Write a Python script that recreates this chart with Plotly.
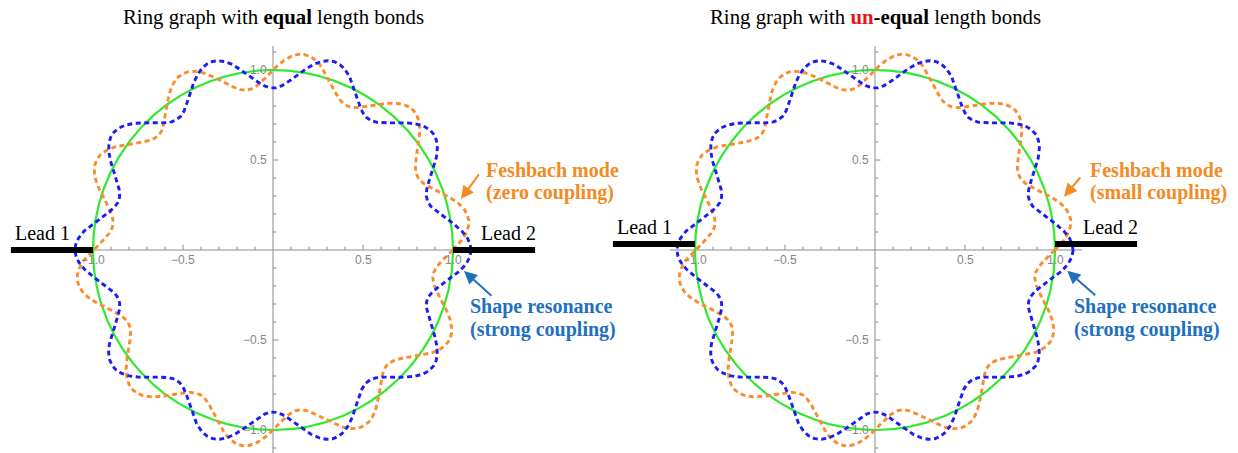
import numpy as np
import plotly.graph_objects as go

# ---- data -------------------------------------------------------------
PANEL_TITLES = [
    "Ring graph with <b>equal</b> length bonds",
    "Ring graph with <b><span style='color:#e8161c'>un</span>-equal</b> length bonds",
]
FESHBACH_LABELS = ["(zero coupling)", "(small coupling)"]
SHAPE_LABELS = ["Shape resonance", "(strong coupling)"]
LEAD_NAMES = ["Lead 1", "Lead 2"]

# standing waves drawn on the unit ring: r(theta) = 1 + amp * cos(n*theta + phase)
WAVE_NUMBER = [10, 10]                 # per panel
SHAPE_AMPLITUDE = [0.10, 0.10]         # blue (shape resonance)
SHAPE_PHASE = [0.0, 0.0]
FESHBACH_AMPLITUDE = [0.10, 0.10]      # orange (Feshbach mode)
FESHBACH_PHASE = [-np.pi / 2, -np.pi / 2]

LEAD_HEIGHT = [0.0, 0.033]             # y at which the leads attach
LEAD_INNER = 1.0
LEAD_OUTER = 1.456

MAJOR_TICKS = [-1.0, -0.5, 0.5, 1.0]
MAJOR_LABELS = ["\u22121.0", "\u22120.5", "0.5", "1.0"]
MINOR_TICKS = [-1.1, -0.9, -0.8, -0.7, -0.6, -0.4, -0.3, -0.2, -0.1,
               0.1, 0.2, 0.3, 0.4, 0.6, 0.7, 0.8, 0.9, 1.1]

# ---- styling ------------------------------------------------------------
GREEN = "#30e830"
ORANGE = "#fb8c2c"
BLUE = "#1c1cf4"
ORANGE_TXT = "#f48a22"
BLUE_TXT = "#1f70c1"
AXIS = "#8c8c8c"
TICK_TXT = "#858585"
SERIF = "Liberation Serif, Times New Roman, serif"
SANS = "Liberation Sans, Arial, sans-serif"

W, H = 1238, 453
SCALE = 180.0                      # px per data unit
ORIGIN_Y = 250.0                   # px from top
ORIGIN_X = [273.0, 875.0]          # px from left
SPLIT = 600.0

fig = go.Figure()
annotations = []

theta = np.linspace(0, 2 * np.pi, 2400)


def seg_xy(segments):
    xs, ys = [], []
    for (x0, y0, x1, y1) in segments:
        xs += [x0, x1, None]
        ys += [y0, y1, None]
    return xs, ys


for p in range(2):
    xa = "x" if p == 0 else "x2"
    ya = "y" if p == 0 else "y2"

    # axes through the origin
    segs = [(-1.14, 0, 1.148, 0), (0, -1.14, 0, 1.133)]
    for t in MAJOR_TICKS:
        segs.append((t, 0, t, 0.03))
        segs.append((0, t, 0.03, t))
    for t in MINOR_TICKS:
        segs.append((t, 0, t, 0.019))
        segs.append((0, t, 0.019, t))
    sx, sy = seg_xy(segs)
    fig.add_trace(go.Scatter(x=sx, y=sy, mode="lines", xaxis=xa, yaxis=ya,
                             line=dict(color=AXIS, width=1), hoverinfo="skip",
                             showlegend=False))

    # tick labels
    for t, lab in zip(MAJOR_TICKS, MAJOR_LABELS):
        annotations.append(dict(x=t, y=-0.053, xref=xa, yref=ya, text=lab,
                                showarrow=False, xanchor="center", yanchor="middle",
                                font=dict(family=SANS, size=12, color=TICK_TXT)))
        annotations.append(dict(x=-0.024, y=t, xref=xa, yref=ya, text=lab,
                                showarrow=False, xanchor="right", yanchor="middle",
                                font=dict(family=SANS, size=12, color=TICK_TXT)))

    # unit ring
    fig.add_trace(go.Scatter(x=np.cos(theta), y=np.sin(theta), mode="lines",
                             xaxis=xa, yaxis=ya, line=dict(color=GREEN, width=2.2),
                             hoverinfo="skip", showlegend=False))

    # Feshbach mode (orange)
    r_f = 1 + FESHBACH_AMPLITUDE[p] * np.cos(WAVE_NUMBER[p] * theta + FESHBACH_PHASE[p])
    fig.add_trace(go.Scatter(x=r_f * np.cos(theta), y=r_f * np.sin(theta), mode="lines",
                             xaxis=xa, yaxis=ya,
                             line=dict(color=ORANGE, width=2.9, dash="5px,3.5px"),
                             hoverinfo="skip", showlegend=False))

    # shape resonance (blue)
    r_s = 1 + SHAPE_AMPLITUDE[p] * np.cos(WAVE_NUMBER[p] * theta + SHAPE_PHASE[p])
    fig.add_trace(go.Scatter(x=r_s * np.cos(theta), y=r_s * np.sin(theta), mode="lines",
                             xaxis=xa, yaxis=ya,
                             line=dict(color=BLUE, width=2.9, dash="5px,3.5px"),
                             hoverinfo="skip", showlegend=False))

    # leads
    hy = LEAD_HEIGHT[p]
    lx, ly = seg_xy([(-LEAD_OUTER, hy, -LEAD_INNER, hy), (LEAD_INNER, hy, LEAD_OUTER, hy)])
    fig.add_trace(go.Scatter(x=lx, y=ly, mode="lines", xaxis=xa, yaxis=ya,
                             line=dict(color="black", width=6), hoverinfo="skip",
                             showlegend=False))

    lab_y = 0.094 if p == 0 else 0.13
    annotations.append(dict(x=-1.446, y=lab_y, xref=xa, yref=ya, text=LEAD_NAMES[0],
                            showarrow=False, xanchor="left", yanchor="middle",
                            font=dict(family=SERIF, size=20, color="black")))
    annotations.append(dict(x=1.146, y=lab_y, xref=xa, yref=ya, text=LEAD_NAMES[1],
                            showarrow=False, xanchor="left", yanchor="middle",
                            font=dict(family=SERIF, size=20, color="black")))

    # title
    annotations.append(dict(x=0, y=1.294, xref=xa, yref=ya, text=PANEL_TITLES[p],
                            showarrow=False, xanchor="center", yanchor="middle",
                            font=dict(family=SERIF, size=20.8, color="black")))

    # Feshbach label + arrow
    fx = 1.172 if p == 0 else 1.183
    annotations.append(dict(x=fx, y=0.444, xref=xa, yref=ya, text="<b>Feshbach mode</b>",
                            showarrow=False, xanchor="left", yanchor="middle",
                            font=dict(family=SERIF, size=20, color=ORANGE_TXT)))
    annotations.append(dict(x=fx, y=0.317, xref=xa, yref=ya,
                            text="<b>" + FESHBACH_LABELS[p] + "</b>",
                            showarrow=False, xanchor="left", yanchor="middle",
                            font=dict(family=SERIF, size=20, color=ORANGE_TXT)))
    tail_f = (1.15, 0.428) if p == 0 else (1.148, 0.411)
    tip_f = (1.044, 0.283) if p == 0 else (1.05, 0.296)
    annotations.append(dict(x=tip_f[0], y=tip_f[1], ax=tail_f[0], ay=tail_f[1],
                            xref=xa, yref=ya, axref=xa, ayref=ya, text="",
                            showarrow=True, arrowhead=2, arrowsize=1.3,
                            arrowwidth=2, arrowcolor=ORANGE_TXT))

    # shape resonance label + arrow
    sxl = 1.083 if p == 0 else 1.094
    annotations.append(dict(x=sxl, y=-0.315, xref=xa, yref=ya,
                            text="<b>" + SHAPE_LABELS[0] + "</b>",
                            showarrow=False, xanchor="left", yanchor="middle",
                            font=dict(family=SERIF, size=20, color=BLUE_TXT)))
    annotations.append(dict(x=sxl, y=-0.444, xref=xa, yref=ya,
                            text="<b>" + SHAPE_LABELS[1] + "</b>",
                            showarrow=False, xanchor="left", yanchor="middle",
                            font=dict(family=SERIF, size=20, color=BLUE_TXT)))
    tail_s = (1.222, -0.261) if p == 0 else (1.232, -0.259)
    tip_s = (1.061, -0.117) if p == 0 else (1.068, -0.115)
    annotations.append(dict(x=tip_s[0], y=tip_s[1], ax=tail_s[0], ay=tail_s[1],
                            xref=xa, yref=ya, axref=xa, ayref=ya, text="",
                            showarrow=True, arrowhead=2, arrowsize=1.3,
                            arrowwidth=2, arrowcolor=BLUE_TXT))

y_range = [-(H - ORIGIN_Y) / SCALE, ORIGIN_Y / SCALE]
x1_range = [-ORIGIN_X[0] / SCALE, (SPLIT - ORIGIN_X[0]) / SCALE]
x2_range = [(SPLIT - ORIGIN_X[1]) / SCALE, (W - ORIGIN_X[1]) / SCALE]

hidden = dict(visible=False, showgrid=False, zeroline=False, fixedrange=True)
fig.update_layout(
    width=W, height=H, autosize=False,
    margin=dict(l=0, r=0, t=0, b=0),
    paper_bgcolor="white", plot_bgcolor="white",
    showlegend=False,
    xaxis=dict(domain=[0, SPLIT / W], range=x1_range, **hidden),
    xaxis2=dict(domain=[SPLIT / W, 1], range=x2_range, **hidden),
    yaxis=dict(domain=[0, 1], range=y_range, anchor="x", **hidden),
    yaxis2=dict(domain=[0, 1], range=y_range, anchor="x2", **hidden),
    annotations=annotations,
)

fig.write_html("out.html")
